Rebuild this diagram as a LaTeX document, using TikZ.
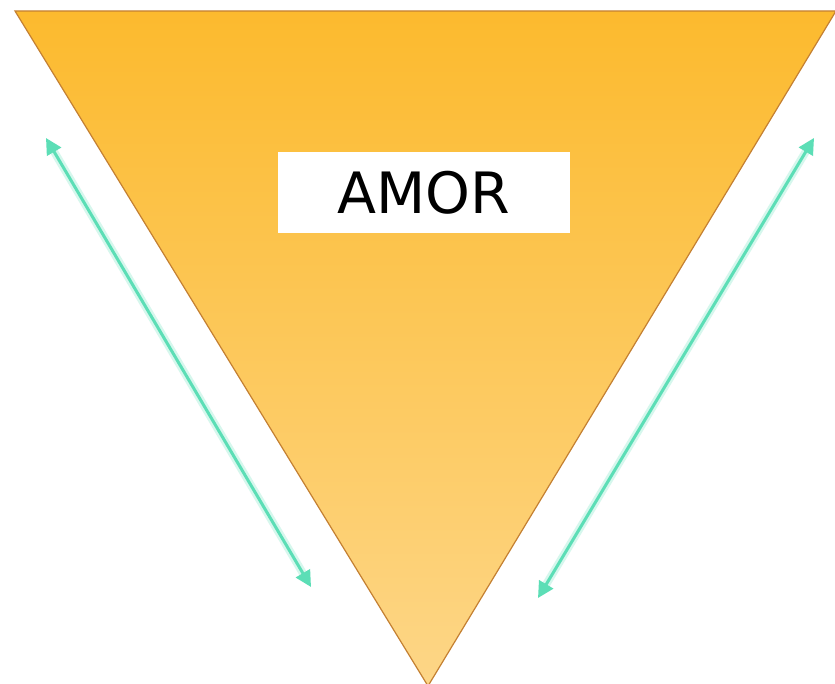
\documentclass[tikz,border=0pt]{standalone}
\usepackage{fontspec}
\setmainfont{DejaVu Sans}
\usetikzlibrary{arrows.meta}
\definecolor{triTop}{RGB}{252,186,46}
\definecolor{triBot}{RGB}{253,214,135}
\definecolor{triEdge}{RGB}{196,128,50}
\definecolor{arrowTeal}{RGB}{92,222,182}
\tikzset{
  tri/.style={draw=triEdge, line width=1.2pt, top color=triTop, bottom color=triBot},
  labelbox/.style={fill=white, minimum width=292pt, minimum height=81pt, inner sep=0pt, font=\fontsize{57}{62}\selectfont, text=black},
  dblarrow/.style={draw=arrowTeal, line width=3pt, {Triangle[length=16pt,width=16pt]}-{Triangle[length=16pt,width=16pt]}},
  glow/.style={draw=arrowTeal!25, line width=8pt, shorten >=14pt, shorten <=14pt}
}
\begin{document}
\begin{tikzpicture}[x=1pt,y=-1pt]
\useasboundingbox (0,0) rectangle (835,684);
\fill[white] (0,0) rectangle (835,684);
\coordinate (tl) at (15,11);
\coordinate (tr) at (836,11);
\coordinate (bot) at (428,686);
\path[tri] (tl) -- (tr) -- (bot) -- cycle;
\node[labelbox] (amor) at (424,192.5) {AMOR};
\coordinate (la) at (46,138);
\coordinate (lb) at (311,587);
\coordinate (ra) at (814,138);
\coordinate (rb) at (538,598);
\draw[glow] (la) -- (lb);
\draw[glow] (ra) -- (rb);
\draw[dblarrow] (la) -- (lb);
\draw[dblarrow] (ra) -- (rb);
\end{tikzpicture}
\end{document}
